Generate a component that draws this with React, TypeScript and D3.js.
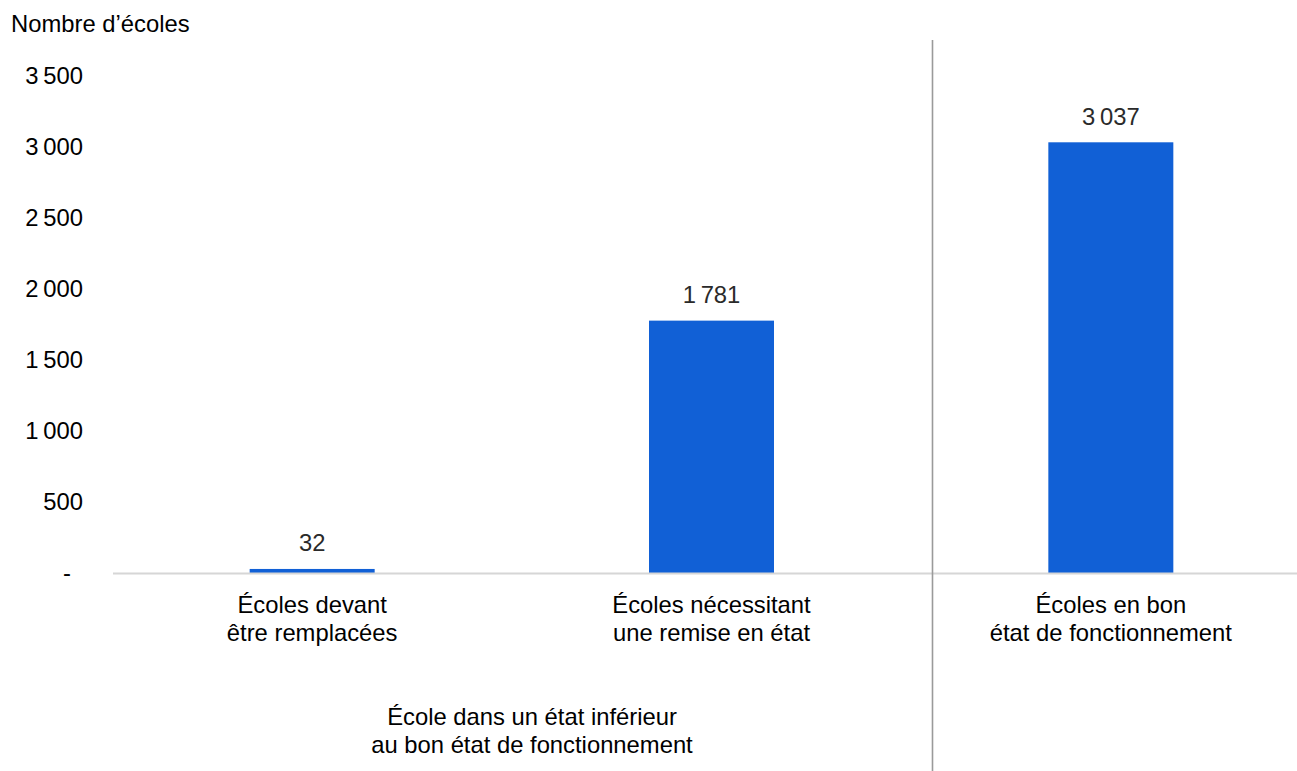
import React from "react";
import * as d3 from "d3";

const categories: string[][] = [
  ["Écoles devant", "être remplacées"],
  ["Écoles nécessitant", "une remise en état"],
  ["Écoles en bon", "état de fonctionnement"],
];
const values: number[] = [32, 1781, 3037];
const yTicks: number[] = [0, 500, 1000, 1500, 2000, 2500, 3000, 3500];
const yTitle = "Nombre d’écoles";
const groupLabel: string[] = ["École dans un état inférieur", "au bon état de fonctionnement"];

const W = 1297;
const H = 771;
const FONT = "'Liberation Sans', Arial, Helvetica, sans-serif";
const FS = 23.8;

const fmt = (v: number) => {
  const s = String(Math.round(v));
  return s.replace(/\B(?=(\d{3})+(?!\d))/g, "\u2009");
};

export default function App() {
  const ids = categories.map((_, i) => String(i));
  const x = d3
    .scaleBand<string>()
    .domain(ids)
    .range([112.5, 1310.5])
    .paddingInner(0.687)
    .paddingOuter(0.3435);
  const y = d3.scaleLinear().domain([0, 3037]).range([573.5, 142.3]);
  const y0 = y(0);

  const groupCenter = 532;

  return (
    <svg
      width={W}
      height={H}
      style={{ position: "absolute", left: 0, top: 0, background: "#fff" }}
      fontFamily={FONT}
    >
      <text x={11} y={32} fontSize={FS} fill="#000">
        {yTitle}
      </text>

      {yTicks.map((t) => (
        <text
          key={t}
          x={t === 0 ? 71 : 83}
          y={y(t)}
          dy="0.32em"
          fontSize={FS}
          textAnchor="end"
          fill="#000"
        >
          {t === 0 ? "-" : fmt(t)}
        </text>
      ))}

      {values.map((v, i) => {
        const bx = x(String(i)) as number;
        const bw = x.bandwidth();
        return (
          <g key={i}>
            <rect x={bx} y={y(v)} width={bw} height={y0 - y(v)} fill="#1160D6" />
            <text
              x={bx + bw / 2}
              y={y(v) - 17.5}
              fontSize={FS}
              textAnchor="middle"
              fill="#2a2a2a"
            >
              {fmt(v)}
            </text>
          </g>
        );
      })}

      <line x1={113} x2={1297} y1={y0} y2={y0} stroke="#d6d6d6" strokeWidth={2} />

      {categories.map((lines, i) => {
        const cx = (x(String(i)) as number) + x.bandwidth() / 2;
        return (
          <text key={i} x={cx} y={613} fontSize={FS} textAnchor="middle" fill="#000">
            {lines.map((l, j) => (
              <tspan key={j} x={cx} y={613 + j * 28}>
                {l}
              </tspan>
            ))}
          </text>
        );
      })}

      <line x1={932.5} x2={932.5} y1={40} y2={H} stroke="#9a9a9a" strokeWidth={1.6} />

      <text x={groupCenter} y={725} fontSize={FS} textAnchor="middle" fill="#000">
        {groupLabel.map((l, j) => (
          <tspan key={j} x={groupCenter} y={725 + j * 28}>
            {l}
          </tspan>
        ))}
      </text>
    </svg>
  );
}
